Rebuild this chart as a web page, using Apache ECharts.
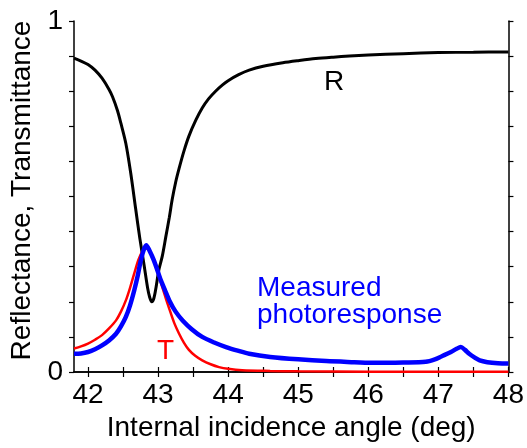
<!DOCTYPE html>
<html>
<head>
<meta charset="utf-8">
<script src="https://cdn.jsdelivr.net/npm/echarts@6/dist/echarts.min.js"></script>
<style>
  html, body { margin: 0; padding: 0; background: #fff; }
  #chart { width: 527px; height: 448px; }
</style>
</head>
<body>
<div id="chart"></div>
<script>
// Reflectance R (black)
const rAngle = [41.8, 41.9, 42.0, 42.1, 42.2, 42.3, 42.35, 42.42, 42.47, 42.54, 42.61, 42.68, 42.74, 42.8, 42.85, 42.88, 42.91, 42.94, 42.97, 43.01, 43.06, 43.11, 43.16, 43.2, 43.25, 43.3, 43.37, 43.44, 43.54, 43.63, 43.72, 43.82, 43.92, 44.0, 44.15, 44.3, 44.5, 44.78, 45.0, 45.25, 45.5, 45.73, 46.0, 46.5, 47.0, 47.5, 48.0];
const rValue = [0.894, 0.886, 0.876, 0.86, 0.837, 0.805, 0.784, 0.745, 0.708, 0.651, 0.566, 0.465, 0.38, 0.305, 0.24, 0.213, 0.2, 0.21, 0.24, 0.29, 0.33, 0.385, 0.44, 0.49, 0.54, 0.58, 0.63, 0.672, 0.718, 0.752, 0.778, 0.8, 0.818, 0.83, 0.847, 0.86, 0.871, 0.881, 0.887, 0.893, 0.897, 0.9, 0.903, 0.907, 0.91, 0.911, 0.912];

// Transmittance T (red)
const tAngle = [41.8, 41.9, 42.0, 42.1, 42.2, 42.3, 42.4, 42.47, 42.54, 42.6, 42.66, 42.72, 42.78, 42.83, 42.88, 42.94, 43.0, 43.06, 43.11, 43.16, 43.23, 43.3, 43.37, 43.44, 43.53, 43.63, 43.75, 43.87, 44.0, 44.2, 44.6, 45.0, 46.0, 48.0];
const tValue = [0.067, 0.073, 0.081, 0.092, 0.105, 0.124, 0.147, 0.172, 0.204, 0.24, 0.281, 0.32, 0.345, 0.352, 0.345, 0.318, 0.28, 0.242, 0.21, 0.18, 0.14, 0.109, 0.083, 0.063, 0.046, 0.033, 0.022, 0.014, 0.009, 0.005, 0.003, 0.002, 0.001, 0.001];

// Measured photoresponse (blue)
const pAngle = [41.8, 41.9, 42.0, 42.1, 42.2, 42.3, 42.4, 42.47, 42.54, 42.6, 42.66, 42.71, 42.75, 42.79, 42.83, 42.88, 42.94, 43.0, 43.04, 43.1, 43.16, 43.25, 43.35, 43.48, 43.63, 43.8, 43.97, 44.15, 44.3, 44.6, 45.0, 45.4, 45.8, 46.1, 46.5, 46.82, 46.95, 47.05, 47.18, 47.26, 47.32, 47.38, 47.44, 47.52, 47.59, 47.7, 47.85, 48.0];
const pValue = [0.052, 0.053, 0.057, 0.065, 0.076, 0.09, 0.109, 0.13, 0.157, 0.19, 0.233, 0.275, 0.315, 0.345, 0.361, 0.345, 0.318, 0.284, 0.261, 0.232, 0.204, 0.172, 0.147, 0.122, 0.1, 0.084, 0.071, 0.06, 0.052, 0.043, 0.036, 0.031, 0.028, 0.026, 0.027, 0.029, 0.036, 0.045, 0.057, 0.066, 0.071, 0.063, 0.052, 0.041, 0.033, 0.028, 0.025, 0.024];

const xTicks = [42, 42.5, 43, 43.5, 44, 44.5, 45, 45.5, 46, 46.5, 47, 47.5, 48];
const xLabels = [42, 43, 44, 45, 46, 47, 48];
const yLabels = [0, 1];

const font = "'Liberation Sans', Arial, sans-serif";
const pairs = (xs, ys) => xs.map((x, i) => [x, ys[i]]);

const chart = echarts.init(document.getElementById("chart"), null, { renderer: "canvas" });

const axisLine = { lineStyle: { color: "#000", width: 1.5 } };
const tick = { length: 5, lineStyle: { color: "#000", width: 1.2 } };

chart.setOption({
  animation: false,
  backgroundColor: "#fff",
  grid: { left: 74, right: 17, top: 21, bottom: 76, containLabel: false },
  xAxis: [
    {
      type: "value",
      min: 41.8,
      max: 48,
      position: "bottom",
      axisLine: axisLine,
      axisTick: { customValues: xTicks, ...tick },
      axisLabel: { customValues: xLabels, color: "#000", fontSize: 28, fontFamily: font, margin: 9 },
      splitLine: { show: false },
      name: "Internal incidence angle (deg)",
      nameLocation: "middle",
      nameGap: 40,
      nameTextStyle: { color: "#000", fontSize: 28, fontFamily: font },
    },
    {
      type: "value",
      min: 41.8,
      max: 48,
      position: "top",
      axisLine: axisLine,
      axisTick: { customValues: xTicks, ...tick },
      axisLabel: { show: false },
      splitLine: { show: false },
    },
  ],
  yAxis: [
    {
      type: "value",
      min: 0,
      max: 1,
      interval: 0.1,
      position: "left",
      axisLine: { show: true, ...axisLine },
      axisTick: { show: true, ...tick },
      axisLabel: { customValues: yLabels, color: "#000", fontSize: 28, fontFamily: font, margin: 11 },
      splitLine: { show: false },
      name: "Reflectance, Transmittance",
      nameLocation: "middle",
      nameGap: 35,
      nameTextStyle: { color: "#000", fontSize: 28, fontFamily: font, padding: [0, 0, 0, 12] },
    },
    {
      type: "value",
      min: 0,
      max: 1,
      interval: 0.1,
      position: "right",
      axisLine: { show: true, ...axisLine },
      axisTick: { show: true, ...tick },
      axisLabel: { show: false },
      splitLine: { show: false },
    },
  ],
  series: [
    {
      name: "R",
      type: "line",
      data: pairs(rAngle, rValue),
      showSymbol: false,
      smooth: 0.3,
      lineStyle: { color: "#000", width: 3 },
      z: 2,
    },
    {
      name: "T",
      type: "line",
      data: pairs(tAngle, tValue),
      showSymbol: false,
      smooth: 0.3,
      lineStyle: { color: "#ff0000", width: 2.5 },
      z: 3,
    },
    {
      name: "Measured photoresponse",
      type: "line",
      data: pairs(pAngle, pValue),
      showSymbol: false,
      smooth: 0.3,
      lineStyle: { color: "#0000ff", width: 4.5 },
      z: 4,
    },
  ],
  graphic: [
    { type: "text", x: 334, y: 82, style: { text: "R", fill: "#000", font: "28px " + font, align: "center", verticalAlign: "middle" } },
    { type: "text", x: 165.5, y: 351.5, style: { text: "T", fill: "#ff0000", font: "28px " + font, align: "center", verticalAlign: "middle" } },
    { type: "text", x: 257, y: 288, style: { text: "Measured", fill: "#0000ff", font: "28px " + font, align: "left", verticalAlign: "middle" } },
    { type: "text", x: 257, y: 315, style: { text: "photoresponse", fill: "#0000ff", font: "28px " + font, align: "left", verticalAlign: "middle" } },
  ],
});
</script>
</body>
</html>
